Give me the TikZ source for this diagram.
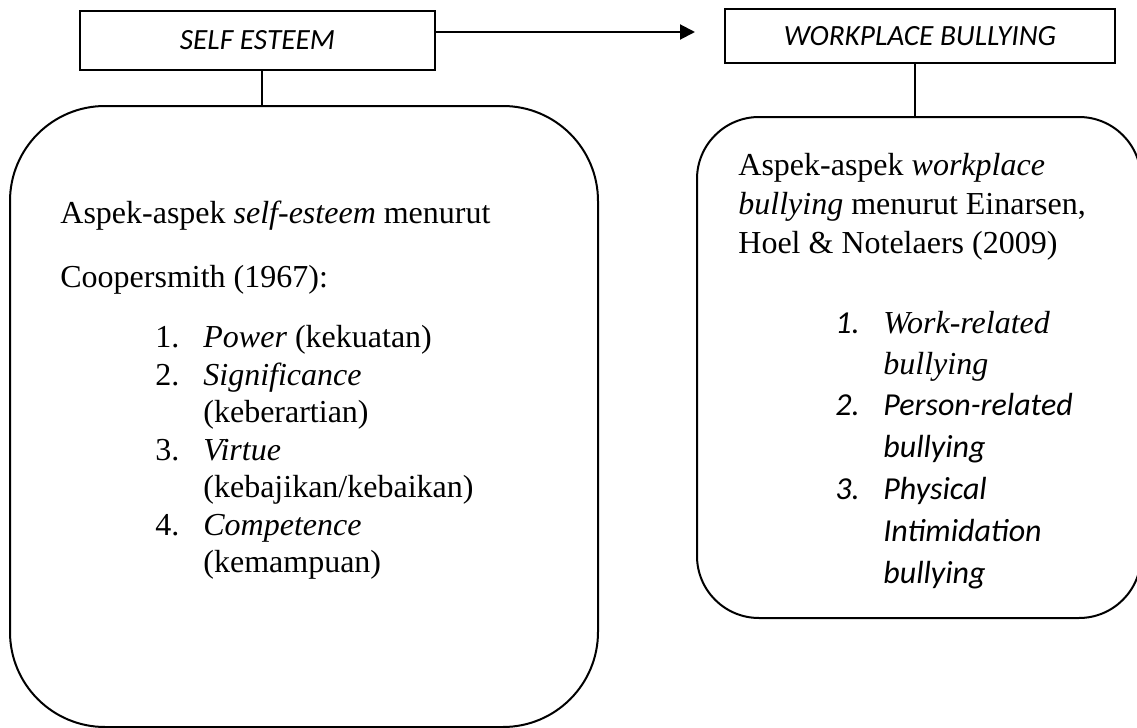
\documentclass[tikz,border=0pt]{standalone}
\usepackage{fontspec}
\setmainfont{Liberation Serif}
\newfontfamily\calfont{Carlito}
\usetikzlibrary{arrows.meta}
\begin{document}
\begin{tikzpicture}[x=0.5pt,y=-0.5pt,
  titlebox/.style={draw=black, line width=1.3pt, inner sep=0pt,
    font=\calfont\itshape\fontsize{14.67}{17}\selectfont},
  roundbox/.style={draw=black, line width=1pt, inner sep=0pt},
  tx/.style={anchor=base west, inner sep=0pt, font=\rmfamily\fontsize{16}{18}\selectfont},
  cx/.style={anchor=base west, inner sep=0pt, font=\calfont\itshape\fontsize{16}{18}\selectfont},
  link/.style={draw=black, line width=1pt},
  arrowlink/.style={link, -{Triangle[length=7.5pt,width=7.5pt]}}]
\useasboundingbox (0,0) rectangle (1137,728);

% title boxes
\node[titlebox, minimum width=177.5pt, minimum height=29.5pt] (se) at (257.5,40.5) {SELF ESTEEM};
\node[titlebox, minimum width=195pt, minimum height=27pt] (wb) at (920,36) {WORKPLACE BULLYING};

% rounded boxes
\node[roundbox, rounded corners=47.5pt, minimum width=294pt, minimum height=310.5pt] (lb) at (304,416.5) {};
\node[roundbox, rounded corners=31pt, minimum width=222pt, minimum height=250.5pt] (rb) at (919,367.5) {};

% connectors
\coordinate (tip) at (695,32);
\coordinate (sedrop) at (262,70);
\coordinate (wbdrop) at (915,63);
\draw[arrowlink] (se.east |- tip) -- (tip);
\draw[link] (sedrop) -- (sedrop |- lb.north);
\draw[link] (wbdrop) -- (wbdrop |- rb.north);

% left text
\node[tx] (l1) at (60,223) {Aspek-aspek \textit{self-esteem} menurut};
\node[tx] (l2) at (60,287) {Coopersmith (1967):};
\node[tx] (n1) at (155,347.5) {1.};
\node[tx] (t1) at (203,347.5) {\textit{Power} (kekuatan)};
\node[tx] (n2) at (155,385) {2.};
\node[tx] (t2) at (203,385) {\textit{Significance}};
\node[tx] (t2b) at (203,422.5) {(keberartian)};
\node[tx] (n3) at (155,460) {3.};
\node[tx] (t3) at (203,460) {\textit{Virtue}};
\node[tx] (t3b) at (203,497.5) {(kebajikan/kebaikan)};
\node[tx] (n4) at (155,535) {4.};
\node[tx] (t4) at (203,535) {\textit{Competence}};
\node[tx] (t4b) at (203,572.5) {(kemampuan)};

% right text
\node[tx] (r1) at (738,175) {Aspek-aspek \textit{workplace}};
\node[tx] (r2) at (738,214) {\textit{bullying} menurut Einarsen,};
\node[tx] (r3) at (738,253) {Hoel \& Notelaers (2009)};
\node[cx] (m1) at (835,333) {1.};
\node[tx] (s1) at (883,333) {\textit{Work-related}};
\node[tx] (s1b) at (883,374) {\textit{bullying}};
\node[cx] (m2) at (835,415) {2.};
\node[cx] (s2) at (883,415) {Person-related};
\node[cx] (s2b) at (883,457) {bullying};
\node[cx] (m3) at (835,499) {3.};
\node[cx] (s3) at (883,499) {Physical};
\node[cx] (s3b) at (883,541) {Intimidation};
\node[cx] (s3c) at (883,583) {bullying};
\end{tikzpicture}
\end{document}
